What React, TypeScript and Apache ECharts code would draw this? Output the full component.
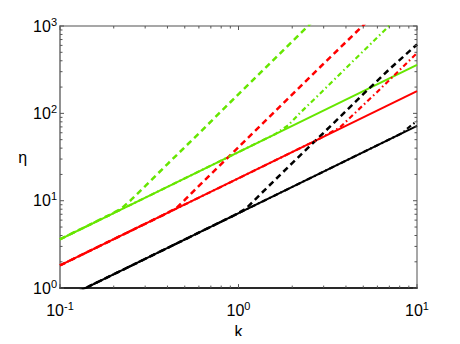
import React, { useEffect, useRef } from "react";
import * as echarts from "echarts";

// ---- data (k, eta) ----
const blackSolidK = [0.1, 10];
const blackSolidEta = [0.72, 72];
const redSolidK = [0.1, 10];
const redSolidEta = [1.82, 180];
const greenSolidK = [0.1, 10];
const greenSolidEta = [3.62, 358];

const greenDashK = [0.1, 0.19, 0.22, 0.25, 0.3, 0.4, 0.6, 0.9, 1.5, 2.45, 3];
const greenDashEta = [3.62, 6.9, 8.1, 10.2, 14.7, 26.3, 59, 134, 373, 1000, 1500];
const redDashK = [0.1, 0.39, 0.45, 0.5, 0.6, 1, 2.86, 5, 6];
const redDashEta = [1.82, 7.05, 8.3, 10.2, 14.8, 41, 337, 1020, 1470];
const blackDashK = [0.1, 0.95, 1.1, 1.3, 2, 3, 5, 7, 10];
const blackDashEta = [0.72, 6.84, 8.1, 11.4, 27, 60, 166, 320, 615];

const greenDotK = [0.1, 1.6, 1.9, 2.2, 2.86, 4, 7];
const greenDotEta = [3.62, 57.6, 73, 100, 168, 330, 1010];
const redDotK = [0.1, 2.8, 3.3, 3.7, 4.4, 6, 8, 10];
const redDotEta = [1.82, 50.4, 61, 69, 97, 177, 314, 490];
const blackDotK = [0.1, 8.3, 8.9, 10];
const blackDotEta = [0.72, 59.8, 68, 82];

// axis ticks
const xMajor = [0.1, 1, 10];
const yMajor = [1, 10, 100, 1000];
const xMinor = [0.2, 0.3, 0.4, 0.5, 0.6, 0.7, 0.8, 0.9, 2, 3, 4, 5, 6, 7, 8, 9];
const yMinor = [2, 3, 4, 5, 6, 7, 8, 9, 20, 30, 40, 50, 60, 70, 80, 90, 200, 300, 400, 500, 600, 700, 800, 900];

const GREEN = "#66e600";
const RED = "#ff0000";
const BLACK = "#000000";
const FONT = "'Liberation Sans', Arial, Helvetica, sans-serif";

const zip = (a: number[], b: number[]) => a.map((v, i) => [v, b[i]]);

export default function App() {
  const ref = useRef<HTMLDivElement>(null);
  useEffect(() => {
    if (!ref.current) return;
    const chart = echarts.init(ref.current, undefined, { renderer: "svg" });

    const lineSeries = (data: number[][], color: string, type: any, z: number, width: number) => ({
      type: "line",
      data,
      showSymbol: false,
      symbol: "none",
      smooth: false,
      clip: true,
      z,
      lineStyle: { color, width, type, cap: "butt" },
      silent: true,
    });

    const tickData: number[][] = [];
    xMajor.forEach((v) => tickData.push([v, 1, 0, 1]));
    xMinor.forEach((v) => tickData.push([v, 1, 0, 0]));
    yMajor.forEach((v) => tickData.push([0.1, v, 1, 1]));
    yMinor.forEach((v) => tickData.push([0.1, v, 1, 0]));

    const fmt = (v: number) => {
      const e = Math.round(Math.log10(v));
      return `{b|10}{s|${e}}`;
    };
    const rich = {
      b: { fontSize: 16, lineHeight: 20, fontFamily: FONT, color: "#000" },
      s: { fontSize: 11, lineHeight: 11, verticalAlign: "top", fontFamily: FONT, color: "#000" },
    };

    const DASH = [6, 4];
    const DASHDOT = [5, 3, 1.5, 3];

    chart.setOption({
      animation: false,
      grid: {
        left: 60,
        right: 43,
        top: 26,
        bottom: 45,
        show: true,
        borderColor: "#8a8a8a",
        borderWidth: 1.5,
        backgroundColor: "transparent",
      },
      xAxis: {
        type: "log",
        logBase: 10,
        min: 0.1,
        max: 10,
        name: "k",
        nameLocation: "middle",
        nameGap: 26,
        nameTextStyle: { fontSize: 16, fontFamily: FONT, color: "#000" },
        axisLine: { show: true, lineStyle: { color: "#000", width: 1.5 } },
        axisTick: { show: false },
        splitLine: { show: false },
        axisLabel: { formatter: fmt, rich, margin: 12 },
      },
      yAxis: {
        type: "log",
        logBase: 10,
        min: 1,
        max: 1000,
        name: "η",
        nameLocation: "middle",
        nameRotate: 0,
        nameGap: 27,
        nameTextStyle: { fontSize: 16, fontFamily: FONT, color: "#000", padding: [0, 0, 18, 0] },
        axisLine: { show: true, lineStyle: { color: "#8a8a8a", width: 1.5 } },
        axisTick: { show: false },
        splitLine: { show: false },
        axisLabel: { formatter: fmt, rich, margin: 3 },
      },
      series: [
        lineSeries(zip(blackSolidK, blackSolidEta), BLACK, "solid", 2, 2),
        lineSeries(zip(redSolidK, redSolidEta), RED, "solid", 2, 2),
        lineSeries(zip(greenSolidK, greenSolidEta), GREEN, "solid", 2, 2),
        lineSeries(zip(blackDashK, blackDashEta), BLACK, DASH, 3, 2.5),
        lineSeries(zip(redDashK, redDashEta), RED, DASH, 3, 2.5),
        lineSeries(zip(greenDashK, greenDashEta), GREEN, DASH, 3, 2.5),
        lineSeries(zip(blackDotK, blackDotEta), BLACK, DASHDOT, 4, 2.2),
        lineSeries(zip(redDotK, redDotEta), RED, DASHDOT, 4, 2.2),
        lineSeries(zip(greenDotK, greenDotEta), GREEN, DASHDOT, 4, 2.2),
        {
          type: "custom",
          data: tickData,
          silent: true,
          z: 10,
          clip: false,
          renderItem: (params: any, api: any) => {
            const kind = api.value(2);
            const major = api.value(3) === 1;
            const len = major ? 4 : 2.5;
            const style = { stroke: "#555", lineWidth: 1 };
            if (kind === 0) {
              const v = api.value(0);
              const pb = api.coord([v, 1]);
              const pt = api.coord([v, 1000]);
              return {
                type: "group",
                children: [
                  { type: "line", shape: { x1: pb[0], y1: pb[1], x2: pb[0], y2: pb[1] - len }, style },
                  { type: "line", shape: { x1: pt[0], y1: pt[1], x2: pt[0], y2: pt[1] + len }, style },
                ],
              };
            }
            const v = api.value(1);
            const pl = api.coord([0.1, v]);
            const pr = api.coord([10, v]);
            return {
              type: "group",
              children: [
                { type: "line", shape: { x1: pl[0], y1: pl[1], x2: pl[0] + len, y2: pl[1] }, style },
                { type: "line", shape: { x1: pr[0], y1: pr[1], x2: pr[0] - len, y2: pr[1] }, style },
              ],
            };
          },
        },
      ],
    });
    return () => chart.dispose();
  }, []);
  return <div ref={ref} style={{ width: 460, height: 344, margin: -8 }} />;
}
